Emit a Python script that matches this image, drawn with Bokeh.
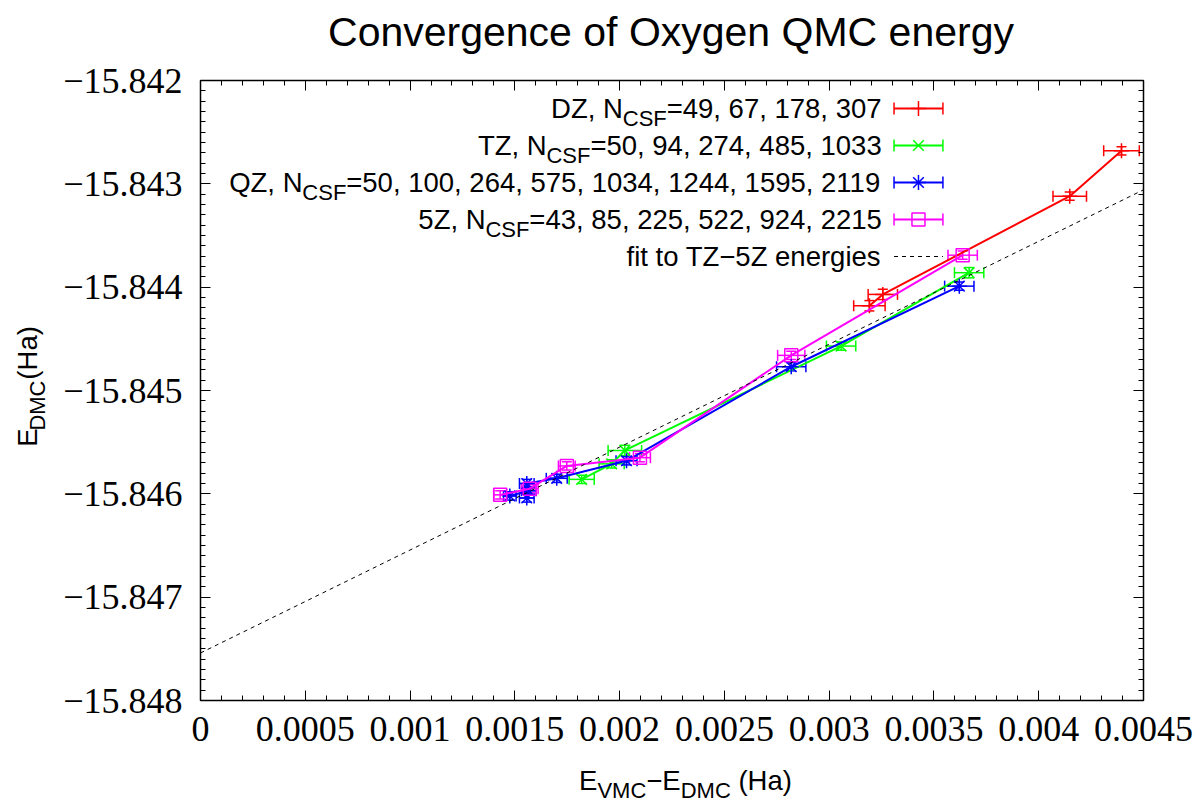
from math import pi
from bokeh.plotting import figure
from bokeh.layouts import column, row
from bokeh.models import (Range1d, FixedTicker, LinearAxis, Label, Whisker,
                          TeeHead, ColumnDataSource, CustomJSTickFormatter)
from bokeh.embed import file_html
from bokeh.resources import INLINE

# ---------------- data ----------------
title_text = "Convergence of Oxygen QMC energy"
x_tick_values = [0, 0.0005, 0.001, 0.0015, 0.002, 0.0025, 0.003, 0.0035, 0.004, 0.0045]
x_tick_labels = ["0", "0.0005", "0.001", "0.0015", "0.002", "0.0025", "0.003",
                 "0.0035", "0.004", "0.0045"]
y_tick_values = [-15.848, -15.847, -15.846, -15.845, -15.844, -15.843, -15.842]
y_tick_labels = ["\u221215.848", "\u221215.847", "\u221215.846", "\u221215.845",
                 "\u221215.844", "\u221215.843", "\u221215.842"]

dz_x = [0.004395, 0.004148, 0.003256, 0.003192]
dz_y = [-15.84268, -15.84312, -15.84407, -15.84418]
dz_xerr = [8.5e-5, 8.0e-5, 7.0e-5, 7.5e-5]
dz_yerr = [4e-5, 4e-5, 5e-5, 5e-5]

tz_x = [0.003668, 0.003057, 0.002025, 0.001962, 0.001819]
tz_y = [-15.84386, -15.84457, -15.84558, -15.84571, -15.84586]
tz_xerr = [7e-5, 7e-5, 8e-5, 6e-5, 6e-5]
tz_yerr = [5e-5, 4e-5, 5e-5, 4e-5, 4e-5]

qz_x = [0.003621, 0.002819, 0.002033, 0.001700, 0.001557, 0.001557, 0.001567, 0.001476]
qz_y = [-15.84399, -15.84477, -15.84568, -15.84585, -15.84590, -15.84604, -15.84597, -15.84602]
qz_xerr = [7e-5, 7e-5, 5e-5, 5e-5, 3.5e-5, 3.5e-5, 3.5e-5, 3e-5]
qz_yerr = [4e-5, 4e-5, 4e-5, 4e-5, 4e-5, 4e-5, 4e-5, 4e-5]

fz_x = [0.003637, 0.002819, 0.002097, 0.001748, 0.001571, 0.001430]
fz_y = [-15.84369, -15.84466, -15.84565, -15.84573, -15.84595, -15.84601]
fz_xerr = [7e-5, 6.5e-5, 5e-5, 4e-5, 4e-5, 3e-5]
fz_yerr = [4e-5, 4e-5, 4e-5, 4e-5, 4e-5, 4e-5]

fit_intercept = -15.84754
fit_slope = 0.996
fit_x = [0.0, 0.0045]

legend_dz = ("DZ, N", "CSF", "=49, 67, 178, 307")
legend_tz = ("TZ, N", "CSF", "=50, 94, 274, 485, 1033")
legend_qz = ("QZ, N", "CSF", "=50, 100, 264, 575, 1034, 1244, 1595, 2119")
legend_fz = ("5Z, N", "CSF", "=43, 85, 225, 522, 924, 2215")
legend_fit = "fit to TZ\u22125Z energies"
xlabel_pieces = [("E", False), ("VMC", True), ("\u2212E", False), ("DMC", True), (" (Ha)", False)]
ylabel_pieces = [("E", False), ("DMC", True), (" (Ha)", False)]

# ---------------- geometry (page pixels) ----------------
PW, PH = 1200, 804
FL, FR, FT, FB = 198, 1143, 80, 700      # plot frame
TITLE_H = 60                              # title strip: y 0..60
YLAB_W = 60                               # y-label strip: x 0..60
MAIN_BOTTOM = 762                         # main figure: y 60..762
X0, X1 = 0.0, 0.0045
Y0, Y1 = -15.848, -15.842
BASE_K = 0.38   # label anchor sits this fraction of the font size above the baseline

def dx(px):
    return X0 + (px - FL) / (FR - FL) * (X1 - X0)

def dy(py):
    return Y1 - (py - FT) / (FB - FT) * (Y1 - Y0)

AW = {c: 556 for c in "0123456789"}
AW.update({' ': 278, ',': 278, '.': 278, '=': 584, '\u2212': 584, '-': 333, '(': 333, ')': 333})
AW.update(dict(A=667, B=667, C=722, D=722, E=667, F=611, G=778, H=722, I=278, J=500, K=667,
               L=556, M=833, N=722, O=778, P=667, Q=778, R=722, S=667, T=611, U=722, V=667,
               W=944, X=667, Y=667, Z=611))
AW.update(dict(a=556, b=556, c=500, d=556, e=556, f=278, g=556, h=556, i=222, j=222, k=500,
               l=222, m=833, n=556, o=556, p=556, q=556, r=333, s=500, t=278, u=556, v=500,
               w=722, x=500, y=500, z=500))

def twidth(s, size):
    return sum(AW.get(c, 556) for c in s) * size / 1000.0

FS, SFS, SHIFT = 27.5, 22, 8
FONT = "Liberation Sans"

def pieces_width(pieces):
    return sum(twidth(t, SFS if s else FS) for t, s in pieces)

def layout_pieces(pieces):
    """yield (offset_along_text, stripped_text, is_sub); leading spaces become advance."""
    pos = 0.0
    for txt, sub in pieces:
        size = SFS if sub else FS
        lead = len(txt) - len(txt.lstrip(" "))
        pos += twidth(" " * lead, size)
        body = txt.lstrip(" ")
        yield pos, body, sub
        pos += twidth(body, size)

# --------- helper: a blank strip figure whose data units are page pixels ---------
def strip(left, top, w, h):
    f = figure(width=w, height=h, x_range=Range1d(left, left + w),
               y_range=Range1d(-(top + h), -top), output_backend="svg",
               toolbar_location=None, x_axis_location=None, y_axis_location=None,
               min_border=0)
    f.outline_line_color = None
    f.background_fill_color = "white"
    f.border_fill_color = "white"
    f.xgrid.visible = False
    f.ygrid.visible = False
    return f

def put(fig, x, y, text, size, align="left", angle=0.0):
    fig.add_layout(Label(x=x, y=y, text=text, text_font=FONT,
                         text_font_size=f"{size}px", text_align=align,
                         text_baseline="alphabetic", angle=angle, text_color="black"))

# ---------------- main figure ----------------
MW = PW - YLAB_W
MH = MAIN_BOTTOM - TITLE_H
p = figure(width=MW, height=MH, x_range=Range1d(X0, X1), y_range=Range1d(Y0, Y1),
           output_backend="svg", toolbar_location=None,
           min_border_left=FL - YLAB_W, min_border_right=PW - FR,
           min_border_top=FT - TITLE_H, min_border_bottom=MAIN_BOTTOM - FB)
p.background_fill_color = "white"
p.border_fill_color = "white"
p.outline_line_color = "black"
p.outline_line_width = 1.5
p.xgrid.visible = False
p.ygrid.visible = False

xminor = [i * 0.0001 for i in range(46)]
yminor = [Y0 + i * 0.0001 for i in range(61)]
xt = FixedTicker(ticks=x_tick_values, minor_ticks=xminor)
yt = FixedTicker(ticks=y_tick_values, minor_ticks=yminor)

def style_axis(ax):
    ax.axis_line_color = None
    ax.major_tick_in = 10
    ax.major_tick_out = 0
    ax.minor_tick_in = 5
    ax.minor_tick_out = 0
    ax.major_tick_line_color = "black"
    ax.minor_tick_line_color = "black"
    ax.major_tick_line_width = 1
    ax.minor_tick_line_width = 1
    ax.major_label_text_font = "Liberation Serif"
    ax.major_label_text_font_size = "36px"
    ax.major_label_text_color = "black"

xa = p.xaxis[0]
xa.ticker = xt
xa.major_label_overrides = {v: l for v, l in zip(x_tick_values, x_tick_labels)}
style_axis(xa)
xa.major_label_standoff = 16
ya = p.yaxis[0]
ya.ticker = yt
ya.major_label_overrides = {v: l for v, l in zip(y_tick_values, y_tick_labels)}
style_axis(ya)
ya.major_label_standoff = 18

blank = CustomJSTickFormatter(code="return ''")
top_ax = LinearAxis(ticker=xt, formatter=blank)
style_axis(top_ax)
top_ax.major_label_standoff = 0
p.add_layout(top_ax, "above")
right_ax = LinearAxis(ticker=yt, formatter=blank)
style_axis(right_ax)
right_ax.major_label_standoff = 0
p.add_layout(right_ax, "right")

def main_text(px, base_py, text, size, align="left"):
    p.add_layout(Label(x=dx(px), y=dy(base_py - BASE_K * size), text=text, text_font=FONT,
                       text_font_size=f"{size}px", text_align=align,
                       text_baseline="alphabetic", text_color="black"))

# ---------------- series ----------------
series = [
    (dz_x, dz_y, dz_xerr, dz_yerr, "#ff0000", "cross", 15, legend_dz),
    (tz_x, tz_y, tz_xerr, tz_yerr, "#00ff00", "x", 15, legend_tz),
    (qz_x, qz_y, qz_xerr, qz_yerr, "#0000ff", "asterisk", 15, legend_qz),
    (fz_x, fz_y, fz_xerr, fz_yerr, "#ff00ff", "square", 13, legend_fz),
]

LEG_RIGHT = 880
SAMPLE_L, SAMPLE_R = 893, 942
ROWS = [108, 145, 182, 219, 256]

for k, (xs, ys, xe, ye, col, mk, msize, leg) in enumerate(series):
    src = ColumnDataSource(dict(
        x=xs, y=ys,
        xl=[a - b for a, b in zip(xs, xe)], xu=[a + b for a, b in zip(xs, xe)],
        yl=[a - b for a, b in zip(ys, ye)], yu=[a + b for a, b in zip(ys, ye)]))
    p.line("x", "y", source=src, line_color=col, line_width=2)
    p.add_layout(Whisker(source=src, base="y", lower="xl", upper="xu", dimension="width",
                         line_color=col, line_width=1.5,
                         lower_head=TeeHead(size=11, line_color=col, line_width=1.5),
                         upper_head=TeeHead(size=11, line_color=col, line_width=1.5)))
    p.add_layout(Whisker(source=src, base="x", lower="yl", upper="yu", dimension="height",
                         line_color=col, line_width=1.5,
                         lower_head=TeeHead(size=10, line_color=col, line_width=1.5),
                         upper_head=TeeHead(size=10, line_color=col, line_width=1.5)))
    p.scatter("x", "y", source=src, marker=mk, size=msize, line_color=col,
              fill_color=None, line_width=1.5)

    # legend row (gnuplot style: right-aligned text, sample on the right)
    cy = ROWS[k]
    pcs = [(leg[0], False), (leg[1], True), (leg[2], False)]
    x_start = LEG_RIGHT - pieces_width(pcs)
    for off, body, sub in layout_pieces(pcs):
        main_text(x_start + off, cy + 10 + (SHIFT if sub else 0), body, SFS if sub else FS)
    p.segment(x0=[dx(SAMPLE_L)], y0=[dy(cy)], x1=[dx(SAMPLE_R)], y1=[dy(cy)],
              line_color=col, line_width=2)
    p.segment(x0=[dx(SAMPLE_L), dx(SAMPLE_R)], y0=[dy(cy - 6)] * 2,
              x1=[dx(SAMPLE_L), dx(SAMPLE_R)], y1=[dy(cy + 6)] * 2,
              line_color=col, line_width=1.5)
    p.scatter(x=[dx((SAMPLE_L + SAMPLE_R) / 2)], y=[dy(cy)], marker=mk, size=msize,
              line_color=col, fill_color=None, line_width=1.5)

# fit line
fit_y = [fit_intercept + fit_slope * v for v in fit_x]
p.line(fit_x, fit_y, line_color="black", line_width=1, line_dash="4 4")
main_text(LEG_RIGHT, ROWS[4] + 10, legend_fit, FS, align="right")
p.segment(x0=[dx(SAMPLE_L)], y0=[dy(ROWS[4])], x1=[dx(SAMPLE_R)], y1=[dy(ROWS[4])],
          line_color="black", line_width=1, line_dash="4 4")

# ---------------- title strip ----------------
tfig = strip(0, 0, PW, TITLE_H)
put(tfig, (FL + FR) / 2, -(47 - BASE_K * 41), title_text, 41, align="center")

# ---------------- y label strip ----------------
yfig = strip(0, TITLE_H, YLAB_W, MH)
y_start = 410 + pieces_width(ylabel_pieces) / 2
for off, body, sub in layout_pieces(ylabel_pieces):
    size = SFS if sub else FS
    base_x = 37 + (SHIFT if sub else 0)
    put(yfig, base_x - BASE_K * size, -(y_start - off), body, size, angle=pi / 2)

# ---------------- x label strip ----------------
xfig = strip(0, MAIN_BOTTOM, PW, PH - MAIN_BOTTOM)
x_start = 685 - pieces_width(xlabel_pieces) / 2
for off, body, sub in layout_pieces(xlabel_pieces):
    size = SFS if sub else FS
    base_y = 790 + (SHIFT if sub else 0)
    put(xfig, x_start + off, -(base_y - BASE_K * size), body, size)

layout = column(tfig, row(yfig, p, spacing=0), xfig, spacing=0)
open("out.html", "w").write(file_html(layout, INLINE))
